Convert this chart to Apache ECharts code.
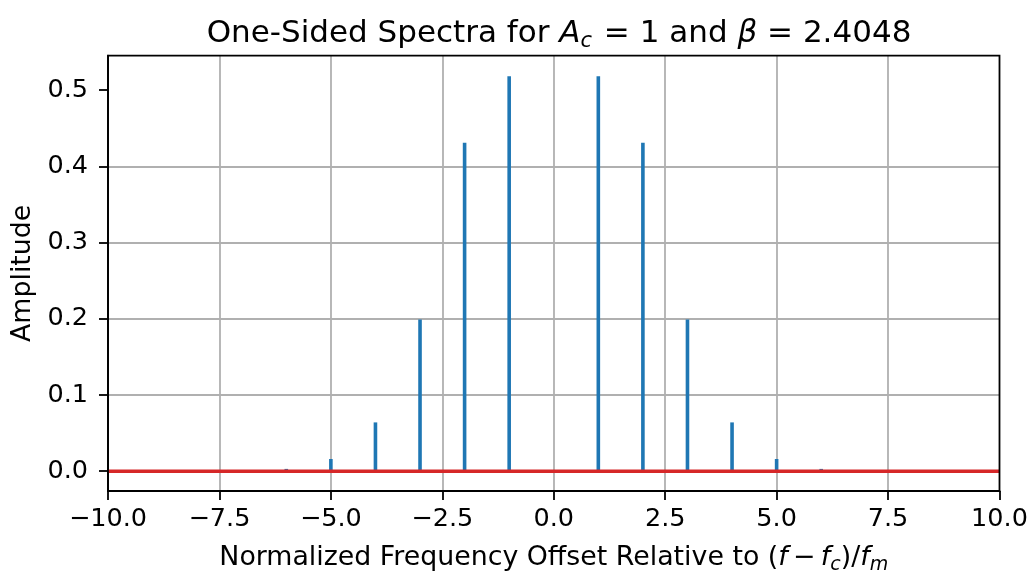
<!DOCTYPE html>
<html>
<head>
<meta charset="utf-8">
<script src="https://cdn.jsdelivr.net/npm/echarts@6/dist/echarts.min.js"></script>
<style>
html,body{margin:0;padding:0;background:#fff;}
#chart{width:1031px;height:572px;}
</style>
</head>
<body>
<div id="chart"></div>
<script>
// Data (harmonic order n, amplitude |J_n(2.4048)|)
const orders = [-6, -5, -4, -3, -2, -1, 0, 1, 2, 3, 4, 5, 6];
const amplitudes = [0.003, 0.016, 0.064, 0.199, 0.431, 0.518, 0.0, 0.518, 0.431, 0.199, 0.064, 0.016, 0.003];
const baselineX = [-10, 10];
const yTickValues = [0.0, 0.1, 0.2, 0.3, 0.4, 0.5];

const FONT = 'DejaVu Sans';
const fmtMinus = (v, d) => (v < 0 ? '\u2212' : '') + Math.abs(v).toFixed(d);

const chart = echarts.init(document.getElementById('chart'), null, {renderer: 'canvas'});

const stemData = orders.map((n, i) => [n, amplitudes[i]]);
const baselineData = baselineX.map(x => [x, 0]);

const TICK_FS = 25.5, LABEL_FS = 26.8, TITLE_FS = 31;

const option = {
  animation: false,
  backgroundColor: '#ffffff',
  title: {
    text: '{n|One-Sided Spectra for }{i|A}{sub|c}{n| = 1 and }{i|\u03b2}{n| = 2.4048}',
    left: 554,
    textAlign: 'center',
    top: 10,
    textStyle: {
      fontFamily: FONT, fontSize: TITLE_FS, fontWeight: 'normal', color: '#000',
      rich: {
        n: {fontFamily: FONT, fontSize: TITLE_FS, color: '#000'},
        i: {fontFamily: FONT, fontSize: TITLE_FS, fontStyle: 'italic', color: '#000'},
        sub: {fontFamily: FONT, fontSize: 21, fontStyle: 'italic', color: '#000', verticalAlign: 'bottom', padding: [16, 2, 0, 0]}
      }
    }
  },
  grid: {
    left: 108, right: 31.5, top: 55.7, bottom: 81,
    outerBoundsMode: 'none',
    containLabel: false,
    show: true,
    borderColor: '#000',
    borderWidth: 1.8,
    backgroundColor: 'transparent',
    z: 5
  },
  xAxis: {
    type: 'value',
    min: -10, max: 10, interval: 2.5,
    name: '{n|Normalized Frequency Offset Relative to (}{i|f}{n|\u2009\u2212\u2009}{i|f}{s|c}{n|)/}{i|f}{s|m}',
    nameLocation: 'middle',
    nameGap: 51,
    nameTextStyle: {
      fontFamily: FONT, fontSize: LABEL_FS, color: '#000',
      rich: {
        n: {fontFamily: FONT, fontSize: LABEL_FS, color: '#000'},
        i: {fontFamily: FONT, fontSize: LABEL_FS, fontStyle: 'italic', color: '#000'},
        s: {fontFamily: FONT, fontSize: 19, fontStyle: 'italic', color: '#000', verticalAlign: 'bottom', padding: [14, 0, 0, 0]}
      }
    },
    axisLine: {show: true, onZero: false, lineStyle: {color: '#000', width: 1.8}},
    axisTick: {show: true, inside: false, length: 9, lineStyle: {color: '#000', width: 1.8}},
    axisLabel: {
      fontFamily: FONT, fontSize: TICK_FS, color: '#000', margin: 15,
      formatter: v => fmtMinus(v, 1)
    },
    splitLine: {show: true, showMinLine: false, showMaxLine: false, lineStyle: {color: '#b0b0b0', width: 1.8}}
  },
  yAxis: {
    type: 'value',
    min: -0.026, max: 0.5451,
    splitNumber: 6,
    name: 'Amplitude',
    nameLocation: 'middle',
    nameGap: 70,
    nameRotate: 90,
    nameTextStyle: {fontFamily: FONT, fontSize: LABEL_FS, color: '#000'},
    axisLine: {show: true, onZero: false, lineStyle: {color: '#000', width: 1.8}},
    axisTick: {show: true, inside: false, length: 9, lineStyle: {color: '#000', width: 1.8}, customValues: yTickValues},
    axisLabel: {
      fontFamily: FONT, fontSize: TICK_FS, color: '#000', margin: 20,
      customValues: yTickValues,
      formatter: v => fmtMinus(v, 1)
    },
    splitLine: {show: true, showMinLine: false, showMaxLine: false, lineStyle: {color: '#b0b0b0', width: 1.8}}
  },
  series: [
    {
      type: 'custom',
      name: 'stems',
      z: 3,
      data: stemData,
      renderItem: function (params, api) {
        const x = api.value(0), y = api.value(1);
        const p0 = api.coord([x, 0]);
        const p1 = api.coord([x, y]);
        return {
          type: 'line',
          shape: {x1: p0[0], y1: p0[1], x2: p1[0], y2: p1[1]},
          style: {stroke: '#1f77b4', lineWidth: 3.6}
        };
      }
    },
    {
      type: 'line',
      name: 'baseline',
      z: 4,
      data: baselineData,
      symbol: 'none',
      lineStyle: {color: '#d62728', width: 3.6},
      silent: true
    }
  ]
};
chart.setOption(option);
</script>
</body>
</html>
